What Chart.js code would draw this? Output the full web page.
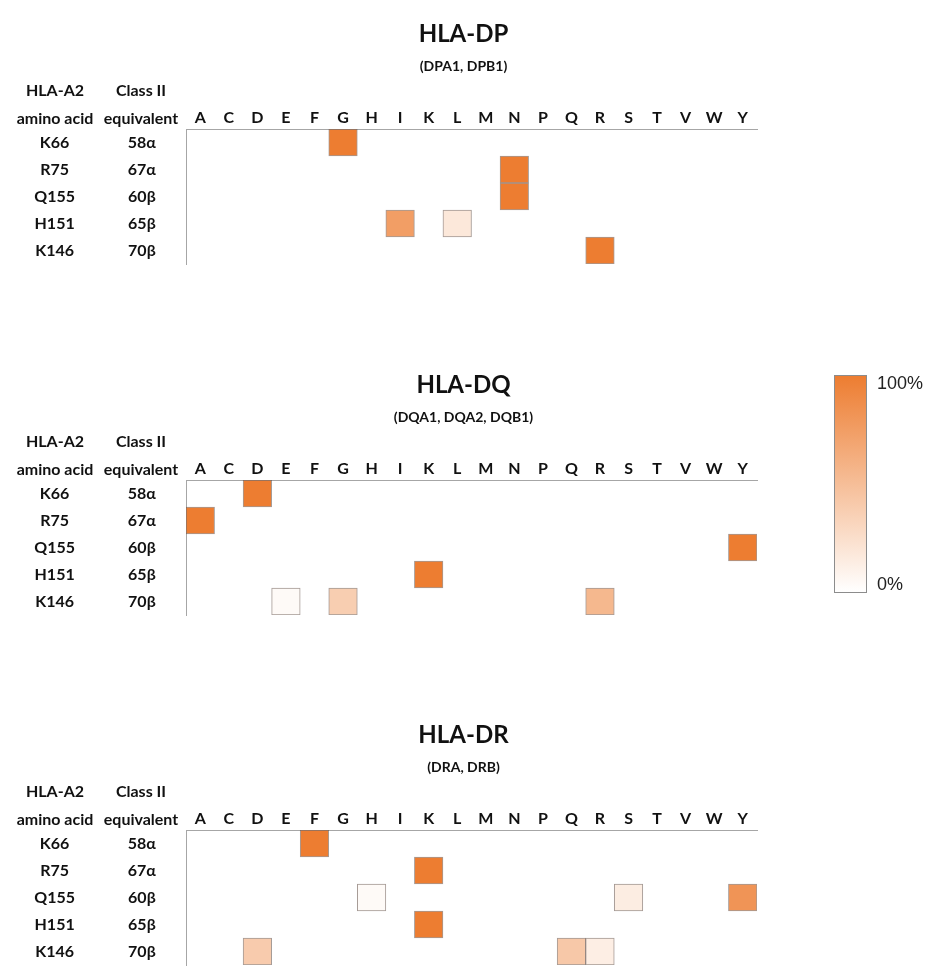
<!DOCTYPE html>
<html>
<head>
<meta charset="utf-8">
<title>HLA class II heatmap</title>
<script src="https://cdn.jsdelivr.net/npm/chart.js@4.4.1/dist/chart.umd.min.js"></script>
<style>
html, body { margin: 0; padding: 0; background: #fff; }
#page { position: relative; width: 927px; height: 969px; overflow: hidden; }
.panel { position: absolute; left: 0; width: 927px; height: 268px; }
#scaleBar {
  position: absolute; left: 834px; top: 375px; width: 31px; height: 216px;
  border: 1px solid #8c8c8c;
  background: linear-gradient(to bottom, #ED7D31, #ffffff);
}
.scaleLabel { position: absolute; left: 877px; font: 18px "Liberation Sans", Arial, sans-serif; color: #222; line-height: 20px; }
</style>
</head>
<body>
<div id="page">
  <div class="panel" style="top:0px"><canvas id="dpChart" width="927" height="268"></canvas></div>
  <div class="panel" style="top:351px"><canvas id="dqChart" width="927" height="268"></canvas></div>
  <div class="panel" style="top:701px"><canvas id="drChart" width="927" height="268"></canvas></div>
  <div id="scaleBar"></div>
  <div class="scaleLabel" id="scaleTop" style="top:373px"></div>
  <div class="scaleLabel" id="scaleBottom" style="top:574px"></div>
</div>
<script>
// columns = residue found at that position, rows = HLA-A2 position
const residues = ['A','C','D','E','F','G','H','I','K','L','M','N','P','Q','R','S','T','V','W','Y'];
const aminoAcids = ['K66','R75','Q155','H151','K146'];
const classII = ['58α','67α','60β','65β','70β'];
const scaleTicks = ['0%','100%'];

// [row, residue, % of alleles]
const dpCells = [
  ['K66','G',100], ['R75','N',100], ['Q155','N',100],
  ['H151','I',75], ['H151','L',18], ['K146','R',100]
];
const dqCells = [
  ['K66','D',100], ['R75','A',100], ['Q155','Y',100], ['H151','K',100],
  ['K146','E',4], ['K146','G',38], ['K146','R',55]
];
const drCells = [
  ['K66','F',100], ['R75','K',100],
  ['Q155','H',4], ['Q155','S',14], ['Q155','Y',82],
  ['H151','K',100],
  ['K146','D',40], ['K146','Q',42], ['K146','R',13]
];

const FONT = "Lato, 'DejaVu Sans', sans-serif";
Chart.defaults.font.family = FONT;
Chart.defaults.color = '#111';

const orange = [237, 125, 49];
function shade(v) {
  const t = v / 100;
  const c = orange.map(o => Math.round(255 + (o - 255) * t));
  return 'rgb(' + c.join(',') + ')';
}

// titles and column headers
const headerText = {
  id: 'headerText',
  afterDraw(chart, args, opts) {
    const ctx = chart.ctx;
    const top = chart.chartArea.top;
    ctx.save();
    ctx.fillStyle = '#111';
    ctx.textAlign = 'center';
    ctx.textBaseline = 'middle';
    ctx.font = 'bold 24px ' + FONT;
    ctx.fillText(opts.title, chart.width / 2, top - 95);
    ctx.font = 'bold 14px ' + FONT;
    ctx.fillText(opts.subtitle, chart.width / 2, top - 63);
    ctx.font = 'bold 16px ' + FONT;
    ctx.fillText('HLA-A2', 55, top - 38);
    ctx.fillText('Class II', 141, top - 38);
    ctx.fillText('amino acid', 55, top - 10);
    ctx.fillText('equivalent', 141, top - 10);
    ctx.restore();
  }
};

function rowTicks(scale) {
  scale.ticks = aminoAcids.map((a, i) => ({ value: i + 0.5 }));
}

function fixWidth(w) {
  return s => {
    s.width = w;
    s.paddingTop = 0;
    s.paddingBottom = 0;
  };
}

function makeHeatmap(id, title, subtitle, cells) {
  new Chart(document.getElementById(id), {
    type: 'bar',
    data: {
      labels: residues,
      datasets: [{
        data: cells.map(c => {
          const r = aminoAcids.indexOf(c[0]);
          return { x: c[1], y: [r, r + 1] };
        }),
        backgroundColor: cells.map(c => shade(c[2])),
        borderColor: 'rgba(90,70,60,0.55)',
        borderWidth: 1,
        borderSkipped: false,
        categoryPercentage: 1,
        barPercentage: 1
      }]
    },
    options: {
      responsive: false,
      animation: false,
      layout: { padding: { top: 105, right: 170, bottom: 4, left: 0 } },
      plugins: {
        legend: { display: false },
        tooltip: { enabled: false },
        headerText: { title: title, subtitle: subtitle }
      },
      scales: {
        x: {
          position: 'top',
          grid: { display: false, drawTicks: false },
          border: { display: true, color: '#a6a6a6', width: 1 },
          ticks: { autoSkip: false, maxRotation: 0, padding: 2, font: { size: 16, weight: 'bold' } },
          afterFit: s => { s.height = 24; }
        },
        y: {
          type: 'linear', min: 0, max: 5, reverse: true,
          position: 'left', weight: 0,
          grid: { display: false, drawTicks: false },
          border: { display: true, color: '#a6a6a6', width: 1 },
          afterBuildTicks: rowTicks,
          ticks: { crossAlign: 'center', padding: 30, font: { size: 16, weight: 'bold' },
                   callback: (v, i) => classII[i] },
          afterFit: fixWidth(86)
        },
        y2: {
          type: 'linear', min: 0, max: 5, reverse: true,
          position: 'left', weight: 1,
          grid: { display: false, drawTicks: false },
          border: { display: false },
          afterBuildTicks: rowTicks,
          ticks: { crossAlign: 'center', padding: 25, font: { size: 16, weight: 'bold' },
                   callback: (v, i) => aminoAcids[i] },
          afterFit: fixWidth(100)
        }
      }
    },
    plugins: [headerText]
  });
}

makeHeatmap('dpChart', 'HLA-DP', '(DPA1, DPB1)', dpCells);
makeHeatmap('dqChart', 'HLA-DQ', '(DQA1, DQA2, DQB1)', dqCells);
makeHeatmap('drChart', 'HLA-DR', '(DRA, DRB)', drCells);

document.getElementById('scaleTop').textContent = scaleTicks[1];
document.getElementById('scaleBottom').textContent = scaleTicks[0];
</script>
</body>
</html>
